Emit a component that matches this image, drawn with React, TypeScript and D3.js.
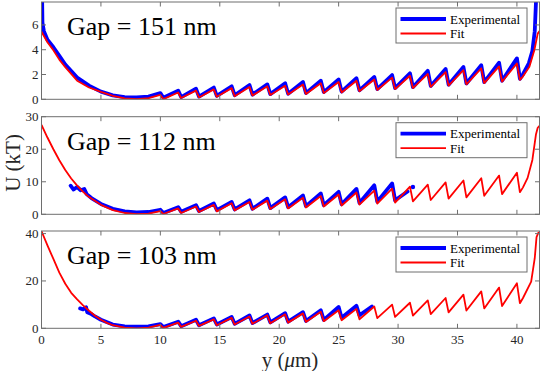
import React from 'react';
import * as d3 from 'd3';

// positions of the sawtooth peaks along y (um)
const toothX = [10, 11.5, 13, 14.5, 16, 17.5, 19, 20.5, 22, 23.5, 25, 26.5, 28, 29.5, 31, 32.5, 34, 35.5, 37, 38.5, 40];
const xTicks = [0, 5, 10, 15, 20, 25, 30, 35, 40];

// Gap = 151 nm
const fitWellX1 = [0, 0.5, 1, 1.5, 2, 3, 4, 5, 6, 7, 8, 9];
const fitWell1 = [5.45, 4.6, 3.95, 3.2, 2.6, 1.5, 0.95, 0.6, 0.28, 0.08, 0.02, 0.1];
const fitPeak1 = [0.35, 0.55, 0.7, 0.8, 0.9, 1.0, 1.05, 1.1, 1.2, 1.3, 1.4, 1.5, 1.6, 1.75, 1.9, 2.05, 2.2, 2.35, 2.5, 2.65, 2.9];
const fitTrough1 = [0.02, 0.1, 0.15, 0.2, 0.25, 0.3, 0.35, 0.38, 0.42, 0.5, 0.55, 0.65, 0.75, 0.82, 0.9, 1.0, 1.1, 1.2, 1.3, 1.42, 1.56];
const fitTailX1 = [40.5, 41.05, 41.47, 41.75, 41.9];
const fitTail1 = [1.83, 2.63, 3.98, 5.3, 5.5];
const expWellX1 = [0.05, 0.08, 0.2, 0.5, 1, 1.5, 2, 3, 4, 5, 6, 7, 8, 9];
const expWell1 = [8.2, 6.2, 5.5, 4.8, 4.2, 3.5, 2.8, 1.75, 1.1, 0.62, 0.32, 0.18, 0.15, 0.22];
const expPeak1 = [0.5, 0.7, 0.85, 0.95, 1.05, 1.15, 1.2, 1.3, 1.4, 1.5, 1.6, 1.7, 1.8, 1.95, 2.1, 2.3, 2.45, 2.6, 2.75, 2.95, 3.3];
const expTrough1 = [0.12, 0.18, 0.22, 0.28, 0.33, 0.38, 0.42, 0.45, 0.5, 0.58, 0.62, 0.72, 0.82, 0.9, 0.98, 1.08, 1.18, 1.28, 1.38, 1.5, 1.65];
const expTailX1 = [40.5, 41, 41.3, 41.5, 41.62];
const expTail1 = [2.0, 2.9, 3.9, 5.5, 8.2];

// Gap = 112 nm
const fitWellX2 = [0, 0.5, 1, 1.5, 2, 2.5, 3, 3.5, 4, 5, 6, 7, 8, 9];
const fitWell2 = [27.5, 23.6, 20, 16.6, 13.6, 11, 8.8, 6.9, 5.3, 2.9, 1.3, 0.4, 0.05, 0.2];
const fitPeak2 = [1.0, 1.8, 2.4, 2.9, 3.4, 3.8, 4.2, 4.6, 5.1, 5.6, 6.1, 6.7, 7.3, 7.9, 8.5, 9.1, 9.8, 10.4, 11.1, 11.9, 12.8];
const fitTrough2 = [0.1, 0.4, 0.7, 0.9, 1.2, 1.4, 1.6, 1.8, 2.1, 2.4, 2.7, 3.0, 3.3, 3.6, 4.0, 4.4, 4.8, 5.2, 5.7, 6.2, 6.8];
const fitTailX2 = [40.5, 40.9, 41.3, 41.6, 41.75, 41.9];
const fitTail2 = [8.2, 11.2, 16.7, 24.5, 26.6, 27.2];
const expWellX2 = [2.45, 2.7, 3.0, 3.3, 3.6, 3.8, 4.2, 5, 6, 7, 8, 9];
const expWell2 = [8.8, 7.6, 8.4, 7.4, 7.8, 6.2, 5.0, 3.2, 1.7, 0.9, 0.6, 0.7];
const expPeak2 = [1.4, 2.2, 2.8, 3.3, 3.8, 4.3, 4.8, 5.2, 5.8, 6.4, 6.9, 7.8, 8.9, 9.5];
const expTrough2 = [0.4, 0.8, 1.0, 1.3, 1.5, 1.7, 1.9, 2.2, 2.5, 2.8, 3.1, 3.5, 3.9, 4.3];
const expTailX2 = [30.8];
const expTail2 = [7.0];
const expDot2 = [31.25, 8.4];

// Gap = 103 nm
const fitWellX3 = [0, 0.5, 1, 1.5, 2, 2.5, 3, 3.5, 4, 4.5, 5, 5.5, 6, 7, 8, 9];
const fitWell3 = [41, 35, 29.3, 23.5, 18.8, 15, 12.2, 9.7, 7.4, 5.3, 3.6, 2.3, 1.3, 0.25, 0, 0.3];
const fitPeak3 = [1.4, 2.4, 3.2, 3.8, 4.4, 5.0, 5.5, 5.9, 6.3, 7.0, 7.6, 8.2, 9.2, 10.0, 10.8, 11.8, 12.8, 14.2, 15.6, 17.2, 19.0];
const fitTrough3 = [0.2, 0.6, 1.0, 1.3, 1.6, 1.9, 2.1, 2.4, 2.7, 3.0, 3.4, 3.8, 4.3, 4.8, 5.4, 6.0, 6.7, 7.5, 8.4, 9.4, 10.6];
const fitTailX3 = [40.5, 41.2, 41.5, 41.65, 41.8, 41.9];
const fitTail3 = [12.7, 19.7, 29.6, 38.5, 40.3, 40.6];
const expWellX3 = [3.25, 3.5, 3.75, 3.85, 4.2, 4.5, 5, 6, 7, 8, 9];
const expWell3 = [8.4, 8.0, 8.9, 6.8, 6.0, 5.0, 3.6, 1.6, 0.8, 0.7, 0.8];
const expPeak3 = [1.8, 2.8, 3.6, 4.2, 4.8, 5.4, 5.8, 6.4, 6.8, 7.6, 9.0, 9.5];
const expTrough3 = [0.5, 0.9, 1.3, 1.6, 1.9, 2.2, 2.5, 2.8, 3.1, 3.5, 4.5, 5.5];
const expTailX3 = [27.8];
const expTail3 = [9.2];

type Pt = [number, number];

// well points, then peak / drop for every tooth, then the tail
const buildSeries = (wx: number[], wy: number[], peaks: number[], troughs: number[], tx: number[], ty: number[]): Pt[] => {
  const pts: Pt[] = wx.map((x, i) => [x, wy[i]] as Pt);
  peaks.forEach((p, i) => {
    pts.push([toothX[i], p]);
    pts.push([toothX[i] + 0.25, troughs[i]]);
  });
  tx.forEach((x, i) => pts.push([x, ty[i]]));
  return pts;
};

const panels = [
  {
    label: 'Gap = 151 nm', top: 2, bottom: 99.3, yMax: 7.85, yTicks: [0, 2, 4, 6],
    fit: buildSeries(fitWellX1, fitWell1, fitPeak1, fitTrough1, fitTailX1, fitTail1),
    exp: buildSeries(expWellX1, expWell1, expPeak1, expTrough1, expTailX1, expTail1),
    dot: null as Pt | null,
  },
  {
    label: 'Gap = 112 nm', top: 116.7, bottom: 214.3, yMax: 30, yTicks: [0, 10, 20, 30],
    fit: buildSeries(fitWellX2, fitWell2, fitPeak2, fitTrough2, fitTailX2, fitTail2),
    exp: buildSeries(expWellX2, expWell2, expPeak2, expTrough2, expTailX2, expTail2),
    dot: expDot2 as Pt,
  },
  {
    label: 'Gap = 103 nm', top: 231, bottom: 328.3, yMax: 41.1, yTicks: [0, 20, 40],
    fit: buildSeries(fitWellX3, fitWell3, fitPeak3, fitTrough3, fitTailX3, fitTail3),
    exp: buildSeries(expWellX3, expWell3, expPeak3, expTrough3, expTailX3, expTail3),
    dot: null as Pt | null,
  },
];

const W = 540;
const H = 371;
const left = 41.5;
const right = 539.5;
const axisColor = '#6e6e6e';
const textColor = '#262626';
const serif = { fontFamily: '"Liberation Serif", "Times New Roman", Times, serif' };
const tickLen = 4.5;

const x = d3.scaleLinear().domain([0, 41.9]).range([left, right]);

export default function App() {
  return (
    <svg width={W} height={H} style={{ position: 'absolute', left: 0, top: 0, background: '#fff', ...serif }}>
      <defs>
        {panels.map((p, i) => (
          <clipPath id={`clip${i}`} key={i}>
            <rect x={left} y={p.top} width={right - left} height={p.bottom - p.top} />
          </clipPath>
        ))}
      </defs>
      {panels.map((p, i) => {
        const y = d3.scaleLinear().domain([0, p.yMax]).range([p.bottom, p.top]);
        const line = d3.line<Pt>().x(d => x(d[0])).y(d => y(d[1]));
        const legY = p.top + 6;
        return (
          <g key={i}>
            <g clipPath={`url(#clip${i})`}>
              <path d={line(p.exp) || ''} fill="none" stroke="#0000ff" strokeWidth={3.8} strokeLinejoin="round" strokeLinecap="round" />
              {p.dot && <circle cx={x(p.dot[0])} cy={y(p.dot[1])} r={2.2} fill="#0000ff" />}
              <path d={line(p.fit) || ''} fill="none" stroke="#ff0000" strokeWidth={1.8} strokeLinejoin="round" />
            </g>
            {/* box */}
            <rect x={left} y={p.top} width={right - left} height={p.bottom - p.top} fill="none" stroke={axisColor} strokeWidth={1} />
            {xTicks.map(t => (
              <g key={`x${t}`}>
                <line x1={x(t)} x2={x(t)} y1={p.bottom} y2={p.bottom - tickLen} stroke={axisColor} />
                <line x1={x(t)} x2={x(t)} y1={p.top} y2={p.top + tickLen} stroke={axisColor} />
                {i === 2 && (
                  <text x={x(t)} y={p.bottom + 15.5} textAnchor="middle" fontSize={13} fill={textColor} style={serif}>{t}</text>
                )}
              </g>
            ))}
            {p.yTicks.map(t => (
              <g key={`y${t}`}>
                <line x1={left} x2={left + tickLen} y1={y(t)} y2={y(t)} stroke={axisColor} />
                <line x1={right} x2={right - tickLen} y1={y(t)} y2={y(t)} stroke={axisColor} />
                <text x={left - 3} y={y(t) + 4.5} textAnchor="end" fontSize={13} fill={textColor} style={serif}>{t}</text>
              </g>
            ))}
            <text x={67} y={p.top + 33} fontSize={26} fill="#000" style={serif}>{p.label}</text>
            {/* legend */}
            <rect x={396} y={legY} width={131} height={35} fill="#fff" stroke={axisColor} strokeWidth={1} />
            <line x1={400.5} x2={446} y1={legY + 11} y2={legY + 11} stroke="#0000ff" strokeWidth={3.8} />
            <line x1={400.5} x2={446} y1={legY + 25.5} y2={legY + 25.5} stroke="#ff0000" strokeWidth={1.8} />
            <text x={450} y={legY + 15.5} fontSize={13} fill="#000" style={serif}>Experimental</text>
            <text x={450} y={legY + 30} fontSize={13} fill="#000" style={serif}>Fit</text>
          </g>
        );
      })}
      <text transform="translate(20,163) rotate(-90)" textAnchor="middle" fontSize={21} fill={textColor} style={serif}>U (kT)</text>
      <text x={290} y={366.5} textAnchor="middle" fontSize={21} fill={textColor} style={serif}>
        y (<tspan fontStyle="italic">μ</tspan>m)
      </text>
    </svg>
  );
}
